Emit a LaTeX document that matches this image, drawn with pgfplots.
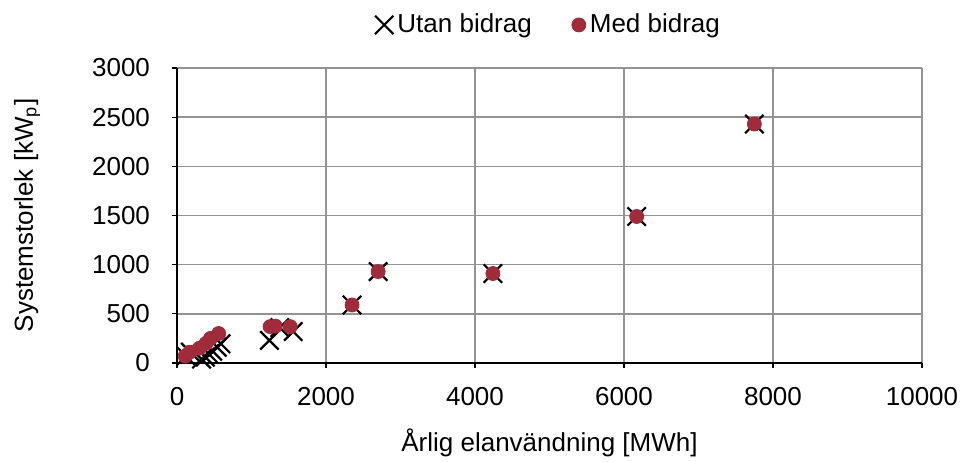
\documentclass[border=0pt]{standalone}
\usepackage{pgfplots}
\pgfplotsset{compat=1.18}
\usepackage{fontspec}
\setmainfont{Liberation Sans}
\definecolor{medred}{RGB}{160,43,58}
\begin{document}
\fontsize{13}{15}\selectfont
\begin{tikzpicture}
\useasboundingbox (-88.5pt,-49pt) rectangle (393.5pt,181.5pt);
\begin{axis}[
  scale only axis,
  width=372.5pt, height=147.5pt,
  xmin=0, xmax=10000, ymin=0, ymax=3000,
  xtick={0,2000,...,10000}, ytick={0,500,...,3000},
  scaled x ticks=false, scaled y ticks=false,
  /pgf/number format/assume math mode=true,
  /pgf/number format/1000 sep={},
  tick label style={font=\fontsize{13}{15}\selectfont},
  label style={font=\fontsize{13}{15}\selectfont},
  axis x line*=bottom, axis y line*=left,
  axis line style={black, line width=0.9pt},
  tick align=outside, major tick length=2.5pt,
  tick style={black, line width=0.6pt},
  grid=major,
  major grid style={gray!85, line width=0.8pt},
  xticklabel style={yshift=-5pt},
  yticklabel style={xshift=-6.5pt},
  xlabel={Årlig elanvändning [MWh]},
  ylabel={Systemstorlek [kW\textsubscript{p}]},
  xlabel style={at={(axis description cs:0.5,-0.271)}, anchor=center},
  ylabel style={at={(axis description cs:-0.2013,0.5)}, anchor=center},
  legend style={at={(0.5,1.146)}, anchor=center, draw=none, fill=none,
    legend columns=2, font=\fontsize{13}{15}\selectfont,
    /tikz/every even column/.append style={column sep=18pt}},
  legend cell align=left,
  clip=false,
]
\addplot[only marks, mark=x, mark size=6.5pt, line width=1.1pt, black] coordinates {
  (120,70) (180,110) (330,40) (380,60) (430,90) (480,120) (540,160) (590,195)
  (1240,230) (1380,360) (1560,320)
  (2350,590) (2700,930) (4240,910) (6170,1490) (7750,2430)
};
\addlegendentry{Utan bidrag}
\addplot[only marks, mark=*, mark size=3.5pt, draw=medred, fill=medred] coordinates {
  (110,70) (170,110) (300,150) (390,200) (450,250) (560,300)
  (1250,370) (1320,375) (1520,370)
  (2350,590) (2700,930) (4240,910) (6170,1490) (7750,2430)
};
\addlegendentry{Med bidrag}
\end{axis}
\end{tikzpicture}
\end{document}
